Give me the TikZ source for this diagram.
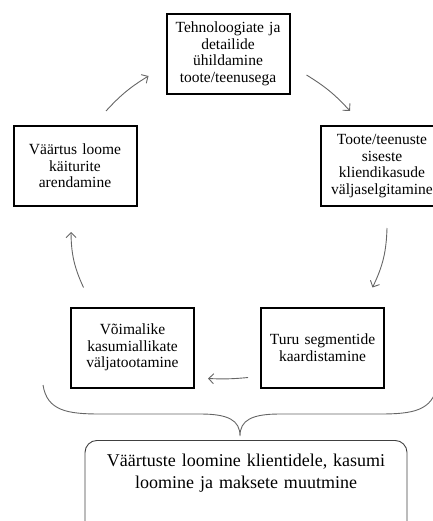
\documentclass[tikz,border=0pt]{standalone}
\usepackage{fontspec}
\setmainfont{Liberation Serif}
\usetikzlibrary{arrows.meta, positioning}

\begin{document}
\begin{tikzpicture}[
  x=1pt, y=-1pt,
  stage/.style={rectangle, draw=black, line width=2pt, fill=white,
                minimum width=123pt, minimum height=80pt, text width=119pt,
                inner sep=2pt, align=center, font=\fontsize{15.5}{16.5}\selectfont},
  result/.style={rectangle, rounded corners=12pt, draw=black!75, line width=0.9pt,
                 minimum width=322pt, text width=310pt, align=center, inner sep=0pt,
                 text height=26pt, text depth=100pt, font=\fontsize{18}{22}\selectfont},
  arrow/.style={-{Straight Barb[length=5pt, width=10pt]}, draw=black!60, line width=0.9pt},
  brace/.style={draw=black!60, line width=0.9pt},
]
\useasboundingbox (0,0) rectangle (432,521);
\node[stage] (tech) at (228,54) {Tehnoloogiate ja\\detailide\\ühildamine\\toote/teenusega};
\node[stage, below left=30pt and 28pt of tech]  (drivers)  {Väärtus loome\\käiturite\\arendamine};
\node[stage, below right=30pt and 29pt of tech] (benefits) {Toote/teenuste\\siseste\\kliendikasude\\väljaselgitamine};
\node[stage] (sources) at (132.5,347.5) {Võimalike\\kasumiallikate\\väljatootamine};
\node[stage, right=65pt of sources] (segments) {Turu segmentide\\kaardistamine};
\node[result, anchor=north] (value) at (246,440)
  {Väärtuste loomine klientidele, kasumi\\loomine ja maksete muutmine};
\draw[arrow] ([xshift=31pt,yshift=14pt]drivers.north) to[bend left=8]
  ([xshift=-17pt,yshift=-22pt]tech.west);
\draw[arrow] ([xshift=16pt,yshift=-21pt]tech.east) to[bend left=8]
  ([xshift=-32pt,yshift=14pt]benefits.north);
\draw[arrow] ([xshift=5pt,yshift=-21pt]benefits.south) to[bend left=12]
  ([xshift=50pt,yshift=19pt]segments.north);
\draw[arrow] ([xshift=-12pt,yshift=11pt]segments.south west) to[bend left=4]
  ([xshift=13pt,yshift=10pt]sources.south east);
\draw[arrow] ([xshift=-49pt,yshift=19pt]sources.north) to[bend left=12]
  ([xshift=-4pt,yshift=-25pt]drivers.south);
% brace over the result box
\coordinate (tip) at (240,436);
\draw[brace] (43,385) .. controls (47,411) and (68,414) .. (100,414) -- (200,414)
  .. controls (228,414) and (240,420) .. (tip)
  .. controls (240,420) and (252,414) .. (280,414) -- (380,414)
  .. controls (412,414) and (433,411) .. (437,385);
\end{tikzpicture}
\end{document}
